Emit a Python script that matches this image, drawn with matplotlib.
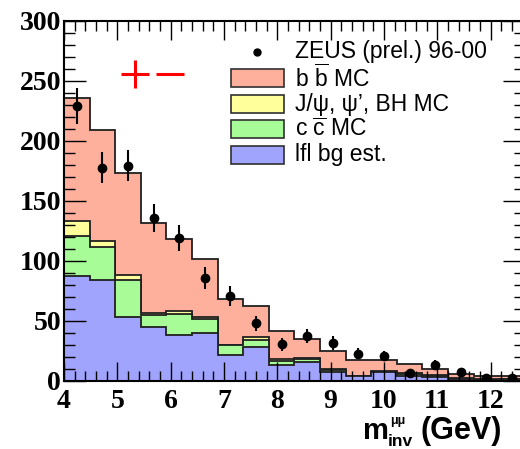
import numpy as np
import matplotlib
matplotlib.use("Agg")
import matplotlib.pyplot as plt
from matplotlib.patches import Rectangle
from matplotlib.ticker import MultipleLocator

plt.rcParams['mathtext.fontset'] = 'custom'
plt.rcParams['mathtext.rm'] = 'Liberation Sans'
plt.rcParams['mathtext.bf'] = 'Liberation Sans:bold'
plt.rcParams['mathtext.it'] = 'Liberation Sans:italic'

# binning of m_inv (GeV)
edges = np.linspace(4.0, 12.64, 19)

# stacked MC components (events per bin)
lfl_bg = [87.8, 84, 53, 44.7, 38, 40, 22, 28.6, 13, 15.8, 7.8, 3.9, 7.2, 4.4, 3.3, 1.4, 0.8, 0.8]
ccbar = [33.2, 28, 31, 10.3, 18, 11.7, 7.7, 5.6, 4, 2.8, 1.1, 0.0, 0.6, 1.7, 1.1, 0.6, 0.4, 0.5]
jpsi_bh = [12.6, 5, 4.3, 1.4, 2.3, 1.9, 0.6, 2.5, 1.6, 0.6, 1.1, 0.5, 0.5, 0.6, 0.6, 0.5, 0.5, 0.5]
bbbar = [102, 92, 84.7, 75.6, 60.3, 48.4, 38, 26.1, 23.4, 15.5, 15, 13.4, 9.5, 7.2, 5.3, 3.3, 2.7, 2.2]

# ZEUS data
data = [229.4, 177.8, 179.4, 135.6, 118.9, 85.6, 70.8, 48, 30.6, 37.5, 32, 22.8, 20.8, 6.7, 13.6, 7.8, 2.5, 2.8]
data_err = [15, 13, 13, 11.7, 10.7, 9, 8.3, 6.3, 5.4, 6.2, 5.8, 4.8, 4.5, 2.6, 3.7, 2.8, 1.6, 1.7]

labels = ["ZEUS (prel.) 96-00", r"b $\overline{\mathrm{b}}$ MC", "J/ψ, ψ’, BH MC",
          r"c $\overline{\mathrm{c}}$ MC", "lfl bg est."]
colors = ["#ffb09c", "#ffff9c", "#a8fc98", "#a0a4fc"]

W, H = 520, 449
fig = plt.figure(figsize=(W/100, H/100), dpi=100)
ax = fig.add_axes([64/W, 68/H, (524.8-64)/W, 360/H])

c1 = np.array(lfl_bg)
c2 = c1 + np.array(ccbar)
c3 = c2 + np.array(jpsi_bh)
c4 = c3 + np.array(bbbar)
for vals, col in zip([c4, c3, c2, c1], colors):
    ax.stairs(vals, edges, fill=True, facecolor=col, edgecolor='none')
    ax.stairs(vals, edges, color='#202020', lw=1.3)

centers = 0.5*(edges[:-1] + edges[1:])
ax.errorbar(centers, data, yerr=data_err, fmt='o', color='black', ms=6,
            elinewidth=1.5, capsize=0, zorder=5)

# red charge symbols
ax.plot([5.33], [255.8], marker='+', color='red', ms=20, mew=2.2, ls='none')
ax.plot([5.98], [255.8], marker='_', color='red', ms=20, mew=2.2, ls='none')

ax.set_xlim(4.0, 12.64)
ax.set_ylim(0, 300)
ax.xaxis.set_major_locator(MultipleLocator(1))
ax.xaxis.set_minor_locator(MultipleLocator(0.2))
ax.yaxis.set_major_locator(MultipleLocator(50))
ax.yaxis.set_minor_locator(MultipleLocator(10))
ax.tick_params(which='both', direction='in', top=True, right=True, width=1.0)
ax.tick_params(axis='y', which='major', length=16, pad=2)
ax.tick_params(axis='y', which='minor', length=8)
ax.tick_params(axis='x', which='major', length=13.5, pad=6)
ax.tick_params(axis='x', which='minor', length=7)
for lab in ax.get_xticklabels() + ax.get_yticklabels():
    lab.set_fontfamily('Liberation Serif')
    lab.set_fontweight('bold')
    lab.set_fontsize(20)
for sp in ax.spines.values():
    sp.set_linewidth(1.5)

# legend
tx = 0.501
rows = [0.914, 0.842, 0.769, 0.699, 0.628]
ax.plot([0.418], [rows[0]], 'o', color='black', ms=5, transform=ax.transAxes)
for r, col in zip(rows[1:], colors):
    ax.add_patch(Rectangle((0.362, r - 0.025), 0.115, 0.05, transform=ax.transAxes,
                           facecolor=col, edgecolor='#303030', lw=1.2))
for r, lab in zip(rows, labels):
    ax.text(tx, r, lab, transform=ax.transAxes, fontsize=16.5, va='center',
            ha='left', family='Liberation Sans')

# x axis title, built from pieces: m, superscript, subscript, unit
lab_kw = dict(fontweight='bold', family='Liberation Sans', va='baseline', ha='left')
fig.text(363/W, 1 - 439/H, "m", fontsize=21, **lab_kw)
fig.text(390/W, 1 - 424/H, "μμ", fontsize=9, **lab_kw)
fig.text(388/W, 1 - 446/H, "inv", fontsize=12.5, **lab_kw)
fig.text(421/W, 1 - 439/H, "(GeV)", fontsize=22, **lab_kw)

fig.savefig("out.png", dpi=100)
